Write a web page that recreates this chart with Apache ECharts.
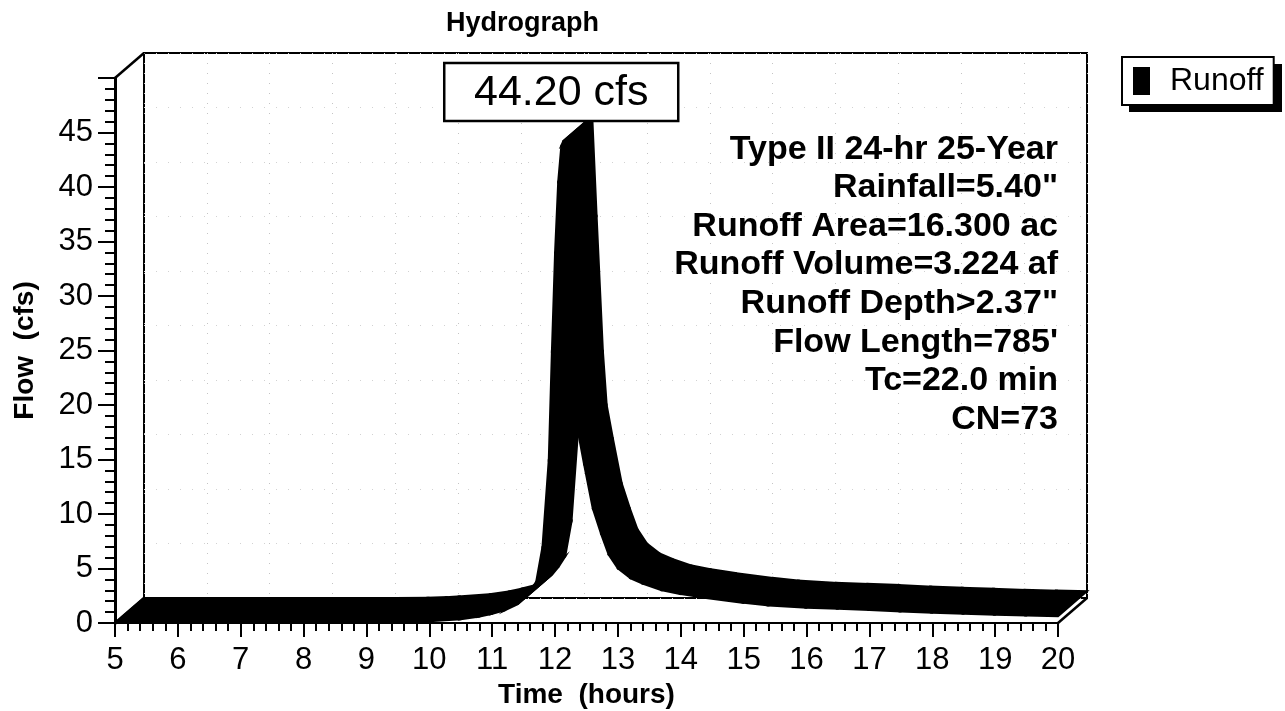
<!DOCTYPE html>
<html>
<head>
<meta charset="utf-8">
<script src="https://cdn.jsdelivr.net/npm/echarts/dist/echarts.min.js"></script>
<style>
html,body{margin:0;padding:0;background:#fff;}
#chart{width:1285px;height:711px;}
</style>
</head>
<body>
<div id="chart"></div>
<script>
// ---------- data ----------
const TIME = [5, 6, 7, 8, 9, 9.5, 9.8, 10.0, 10.5, 10.8, 11.0, 11.2, 11.4, 11.5, 11.6, 11.7, 11.8, 11.9, 11.95, 12.0, 12.05, 12.1, 12.13, 12.2, 12.3, 12.36, 12.46, 12.6, 12.73, 12.85, 13.0, 13.2, 13.4, 13.7, 14.0, 14.4, 15.0, 15.4, 16.0, 16.5, 17.0, 17.5, 18.0, 18.5, 19.0, 19.5, 20.0];
const FLOW = [0, 0, 0, 0, 0, 0.02, 0.08, 0.15, 0.35, 0.6, 0.85, 1.15, 1.7, 2.2, 2.9, 3.8, 7.0, 15.0, 25.0, 34.0, 40.5, 43.8, 44.2, 35.0, 22.6, 17.7, 14.6, 10.5, 8.2, 6.3, 5.0, 4.1, 3.6, 3.0, 2.65, 2.3, 1.85, 1.6, 1.4, 1.3, 1.2, 1.05, 0.95, 0.85, 0.75, 0.68, 0.62];
const SERIES_NAME = 'Runoff';
const X_MIN = 5, X_MAX = 20, X_STEP = 1;
const Y_MIN = 0, Y_MAX = 50, Y_STEP = 5;
const TITLE = 'Hydrograph';
const X_NAME = 'Time  (hours)';
const Y_NAME = 'Flow  (cfs)';
const UNIT = 'cfs';
const INFO_LINES = [
  'Type II 24-hr 25-Year',
  'Rainfall=5.40"',
  'Runoff Area=16.300 ac',
  'Runoff Volume=3.224 af',
  'Runoff Depth>2.37"',
  "Flow Length=785'",
  'Tc=22.0 min',
  'CN=73'
];

// ---------- layout / style ----------
const FONT = "'Liberation Sans', Arial, Helvetica, sans-serif";
const DX = 29, DY = -25;          // 3D depth offset in pixels
const FRONT = {left: 115, top: 78, right: 227, bottom: 88};
const BACK = {left: FRONT.left + DX, top: FRONT.top + DY, right: FRONT.right - DX, bottom: FRONT.bottom - DY};
const LEGEND_BOX = {x: 1122, y: 57, w: 153, h: 48, shadow: 7};

const seriesData = TIME.map((t, i) => [t, FLOW[i]]);
let peakIdx = 0;
FLOW.forEach((v, i) => { if (v > FLOW[peakIdx]) peakIdx = i; });
const peakLabel = FLOW[peakIdx].toFixed(2) + ' ' + UNIT;

const chart = echarts.init(document.getElementById('chart'), null, {renderer: 'canvas'});

const option = {
  animation: false,
  backgroundColor: '#fff',
  color: ['#000'],
  title: {
    text: TITLE,
    left: 441, top: 5,
    textStyle: {fontFamily: FONT, fontWeight: 'bold', fontSize: 27, color: '#000'}
  },
  legend: {
    data: [SERIES_NAME],
    left: LEGEND_BOX.x, top: LEGEND_BOX.y,
    icon: 'rect',
    itemWidth: 17, itemHeight: 28,
    padding: [8, 10, 8, 11],
    backgroundColor: '#fff',
    borderColor: '#000', borderWidth: 2, borderRadius: 0,
    selectedMode: false,
    z: 5,
    textStyle: {fontFamily: FONT, fontSize: 32, color: '#000', padding: [0, 0, 0, 15]}
  },
  grid: [
    Object.assign({containLabel: false, outerBoundsMode: 'none'}, FRONT),
    Object.assign({show: true, borderColor: '#000', borderWidth: 2, backgroundColor: 'transparent',
                   containLabel: false, outerBoundsMode: 'none'}, BACK)
  ],
  xAxis: [
    {
      gridIndex: 0, type: 'value', min: X_MIN, max: X_MAX, interval: X_STEP, z: 10,
      axisLine: {show: true, onZero: false, lineStyle: {color: '#000', width: 2}},
      axisTick: {show: true, length: 14, lineStyle: {color: '#000', width: 2}},
      minorTick: {show: true, splitNumber: 5, length: 8, lineStyle: {color: '#000', width: 2}},
      axisLabel: {margin: 22, fontSize: 31, color: '#000', fontFamily: FONT},
      splitLine: {show: false},
      name: X_NAME, nameLocation: 'middle', nameGap: 50,
      nameTextStyle: {fontFamily: FONT, fontWeight: 'bold', fontSize: 28, color: '#000'}
    },
    {
      gridIndex: 1, type: 'value', min: X_MIN, max: X_MAX, interval: X_STEP,
      axisLine: {show: false}, axisTick: {show: false}, axisLabel: {show: false},
      splitLine: {show: true, lineStyle: {color: '#c4c4c4', type: [1, 9], width: 1}}
    }
  ],
  yAxis: [
    {
      gridIndex: 0, type: 'value', min: Y_MIN, max: Y_MAX, interval: Y_STEP, z: 10,
      axisLine: {show: true, onZero: false, lineStyle: {color: '#000', width: 3}},
      axisTick: {show: true, length: 17, lineStyle: {color: '#000', width: 2}},
      minorTick: {show: true, splitNumber: 5, length: 10, lineStyle: {color: '#000', width: 2}},
      axisLabel: {margin: 22, fontSize: 31, color: '#000', fontFamily: FONT, showMaxLabel: false},
      splitLine: {show: false},
      name: Y_NAME, nameLocation: 'middle', nameGap: 76, nameRotate: 90,
      nameTextStyle: {fontFamily: FONT, fontWeight: 'bold', fontSize: 28, color: '#000'}
    },
    {
      gridIndex: 1, type: 'value', min: Y_MIN, max: Y_MAX, interval: Y_STEP,
      axisLine: {show: false}, axisTick: {show: false}, axisLabel: {show: false},
      splitLine: {show: true, lineStyle: {color: '#d2d2d2', type: [1, 11], width: 1}}
    }
  ],
  series: [
    {
      name: SERIES_NAME,
      type: 'custom',
      xAxisIndex: 0, yAxisIndex: 0,
      clip: false, z: 5,
      itemStyle: {color: '#000'},
      data: seriesData,
      encode: {x: 0, y: 1},
      renderItem: function (params, api) {
        const i = params.dataIndex;
        if (i >= TIME.length - 1) return null;
        const a = api.coord([TIME[i], FLOW[i]]);
        const b = api.coord([TIME[i + 1], FLOW[i + 1]]);
        return {
          type: 'polygon',
          shape: {points: [a, b, [b[0] + DX, b[1] + DY], [a[0] + DX, a[1] + DY]]},
          style: {fill: '#000', stroke: '#000', lineWidth: 2}
        };
      }
    },
    {
      name: '__frame',
      type: 'custom',
      xAxisIndex: 0, yAxisIndex: 0,
      clip: false, z: 6, silent: true,
      data: [[X_MIN, Y_MIN]],
      encode: {x: 0, y: 1},
      renderItem: function (params, api) {
        const corners = [api.coord([X_MIN, Y_MAX]), api.coord([X_MIN, Y_MIN]), api.coord([X_MAX, Y_MIN])];
        return {
          type: 'group',
          children: corners.map(p => ({
            type: 'line',
            shape: {x1: p[0], y1: p[1], x2: p[0] + DX, y2: p[1] + DY},
            style: {stroke: '#000', lineWidth: 2.5}
          }))
        };
      }
    },
    {
      name: '__peak',
      type: 'custom',
      xAxisIndex: 0, yAxisIndex: 0,
      clip: false, z: 20, silent: true,
      data: [[TIME[peakIdx], FLOW[peakIdx]]],
      encode: {x: 0, y: 1},
      renderItem: function (params, api) {
        const p = api.coord([api.value(0), api.value(1)]);
        const top = api.coord([X_MIN, Y_MAX])[1] - 15;
        const w = 234, h = 58;
        return {
          type: 'group',
          children: [
            {type: 'rect', shape: {x: p[0] - w / 2 - 2, y: top, width: w, height: h},
             style: {fill: '#fff', stroke: '#000', lineWidth: 2.5}},
            {type: 'text', x: p[0] - 2, y: top + h / 2 + 1,
             style: {text: peakLabel, align: 'center', verticalAlign: 'middle',
                     fontFamily: FONT, fontSize: 43, fill: '#000'}}
          ]
        };
      }
    }
  ],
  graphic: [
    {
      type: 'rect', z: 1, silent: true,
      shape: {x: LEGEND_BOX.x + LEGEND_BOX.shadow, y: LEGEND_BOX.y + LEGEND_BOX.shadow,
              width: LEGEND_BOX.w, height: LEGEND_BOX.h},
      style: {fill: '#000'}
    },
    {
      type: 'text', x: 1058, y: 130, z: 30, silent: true,
      style: {
        text: INFO_LINES.join('\n'),
        align: 'right', verticalAlign: 'top',
        fontFamily: FONT, fontWeight: 'bold', fontSize: 34, lineHeight: 38.6,
        fill: '#000'
      }
    }
  ]
};

chart.setOption(option);
</script>
</body>
</html>
